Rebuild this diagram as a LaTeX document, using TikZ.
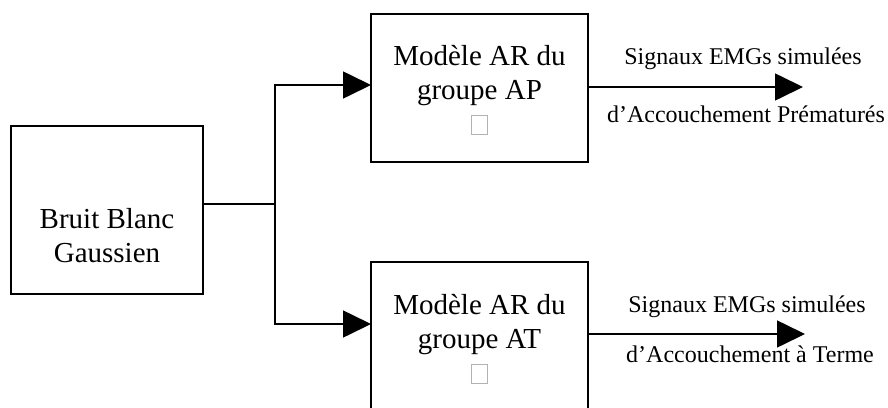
\documentclass[tikz,border=0pt]{standalone}
\usepackage{fontspec}
\setmainfont{Liberation Serif}
\usetikzlibrary{arrows.meta}
\newcommand{\missingglyph}{{\color{gray!60}\setlength{\fboxrule}{0.8pt}\setlength{\fboxsep}{0pt}\fbox{\rule{0pt}{18pt}\rule{15pt}{0pt}}}}
\begin{document}
\begin{tikzpicture}[x=1pt,y=-1pt,
  blk/.style={draw,line width=1.6pt,inner sep=0pt},
  blktext/.style={align=center,font=\fontsize{29}{34}\selectfont,inner sep=0pt},
  lbl/.style={font=\fontsize{24}{28}\selectfont,inner sep=0pt},
  wire/.style={line width=1.6pt},
  arr/.style={line width=1.6pt,-{Triangle[length=28pt,width=27pt]}}]
\useasboundingbox (0,0) rectangle (888,407);
\clip (0,0) rectangle (888,407);
% boxes
\node[blk,minimum width=192pt,minimum height=168pt] (src) at (107,210) {};
\node[blk,minimum width=217pt,minimum height=148pt] (ap) at (479.5,88) {};
\node[blk,minimum width=217pt,minimum height=150pt] (at) at (479.5,337) {};
% texts
\node[blktext] (srct) at (107,236) {Bruit Blanc\\Gaussien};
\node[blktext] (apt) at (479.5,90) {Modèle AR du\\groupe AP\\\missingglyph};
\node[blktext] (att) at (479.5,339) {Modèle AR du\\groupe AT\\\missingglyph};
% coordinates
\coordinate (split) at (275,204);
\coordinate (apin) at (371,85);
\coordinate (atin) at (371,324);
\coordinate (apout) at (803,87);
\coordinate (atout) at (805,334);
% connectors
\draw[wire] (split -| src.east) -- (split);
\draw[arr] (split) |- (apin);
\draw[arr] (split) |- (atin);
\draw[arr] (apout -| ap.east) -- (apout);
\draw[arr] (atout -| at.east) -- (atout);
% labels
\node[lbl] (l1) at (743,59) {Signaux EMGs simulées};
\node[lbl] (l2) at (746,114) {d’Accouchement Prématurés};
\node[lbl] (l3) at (747,307) {Signaux EMGs simulées};
\node[lbl] (l4) at (750,354) {d’Accouchement à Terme};
\end{tikzpicture}
\end{document}
